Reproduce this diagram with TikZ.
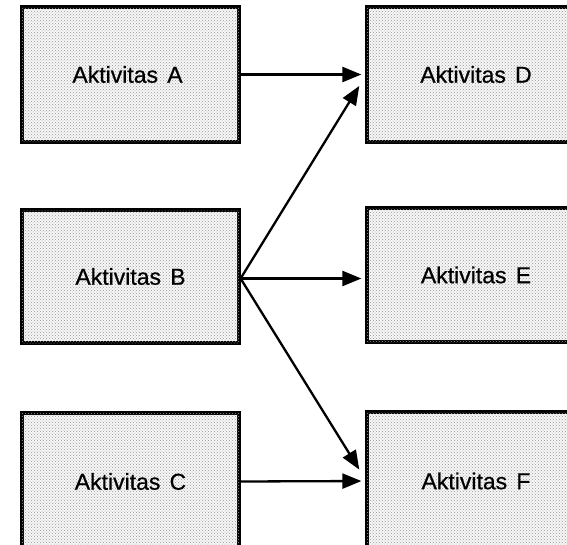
\documentclass[tikz,border=0pt]{standalone}
\usepackage{fontspec}
\setmainfont{Liberation Sans}
\newfontface\boxfont{Liberation Sans}[FakeBold=0.6]
\usetikzlibrary{patterns,arrows.meta}
\begin{document}
\begin{tikzpicture}[x=1pt,y=-1pt,
  actbox/.style={draw=black,line width=3.2pt,fill=gray!6,
    postaction={pattern=crosshatch dots,pattern color=gray!80},
    rectangle,inner sep=0pt,minimum width=217pt,minimum height=135pt,
    font=\boxfont\fontsize{23}{25}\selectfont},
  conn/.style={line width=2.3pt,-{Triangle[length=19pt,width=15pt]},shorten >=4pt}]
\useasboundingbox (0,0) rectangle (567,544);
\clip (0,0) rectangle (567,544);
\fill[white] (0,0) rectangle (567,544);
\node[actbox] (A) at (130.5,74.5) {\kern-6pt Aktivitas\hspace{0.4em}A};
\node[actbox,minimum height=133pt] (B) at (130.5,276.5) {Aktivitas\hspace{0.4em}B};
\node[actbox,minimum height=137pt] (C) at (130.5,481.5) {Aktivitas\hspace{0.4em}C};
\node[actbox,minimum width=218pt] (D) at (476,74.5) {Aktivitas\hspace{0.4em}D};
\node[actbox,minimum width=218pt,minimum height=134pt] (E) at (476,275) {Aktivitas\hspace{0.4em}E};
\node[actbox,minimum width=218pt,minimum height=138pt] (F) at (476,481) {Aktivitas\hspace{0.4em}F};
\coordinate (Bout) at ([yshift=-2pt]B.east);
\coordinate (Dend) at ([xshift=-4pt,yshift=-8pt]D.west);
\coordinate (Fend) at ([xshift=-4pt,yshift=8pt]F.west);
\draw[conn] (A.east) -- (D.west);
\draw[conn] (Bout) -- (Bout -| E.west);
\draw[conn] (Bout) -- (Dend);
\draw[conn] (Bout) -- (Fend);
\draw[conn] (C.east) -- (F.west);
\end{tikzpicture}
\end{document}
